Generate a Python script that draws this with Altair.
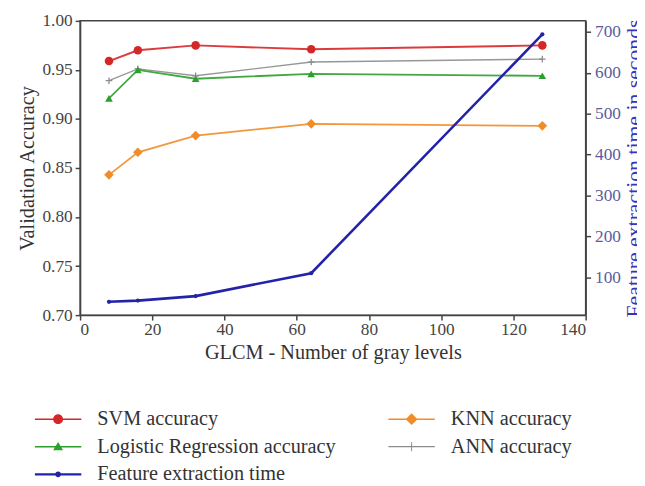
import altair as alt
import pandas as pd

# ---- data ----
gray_levels = [8, 16, 32, 64, 128]
svm_acc = [0.959, 0.970, 0.975, 0.971, 0.975]
lr_acc = [0.921, 0.950, 0.941, 0.946, 0.944]
knn_acc = [0.843, 0.866, 0.883, 0.895, 0.893]
ann_acc = [0.939, 0.951, 0.944, 0.958, 0.961]
extract_time = [40, 43, 54, 110, 694]

# legend order (filled column by column: 3 in the first column, 2 in the second)
series_names = ["SVM accuracy", "Logistic Regression accuracy", "Feature extraction time",
                "KNN accuracy", "ANN accuracy"]
series_colors = ["#d62728", "#2ca02c", "#2323aa", "#f28c28", "#8c8c8c"]

x_ticks = [0, 20, 40, 60, 80, 100, 120, 140]
acc_ticks = [0.70, 0.75, 0.80, 0.85, 0.90, 0.95, 1.00]
time_ticks = [100, 200, 300, 400, 500, 600, 700]

FONT = "Liberation Serif"
color_of = dict(zip(series_names, series_colors))

acc_df = pd.concat([
    pd.DataFrame({"gray": gray_levels, "acc": vals, "series": name})
    for name, vals in [("SVM accuracy", svm_acc),
                       ("Logistic Regression accuracy", lr_acc),
                       ("KNN accuracy", knn_acc),
                       ("ANN accuracy", ann_acc)]
], ignore_index=True)
time_df = pd.DataFrame({"gray": gray_levels, "time": extract_time,
                        "series": "Feature extraction time"})

x_enc = alt.X("gray:Q", scale=alt.Scale(domain=[0, 140], nice=False),
              axis=alt.Axis(values=x_ticks, title="GLCM - Number of gray levels",
                            labelPadding=1, titlePadding=4))
acc_y = alt.Y("acc:Q", scale=alt.Scale(domain=[0.70, 1.00], nice=False, zero=False),
              axis=alt.Axis(values=acc_ticks, format=".2f", title="Validation Accuracy",
                            orient="left", labelPadding=3, titlePadding=5))
time_y = alt.Y("time:Q", scale=alt.Scale(domain=[7.5, 727], nice=False, zero=False),
               axis=alt.Axis(values=time_ticks, title="Feature extraction time in seconds",
                             orient="right", titleColor="#3434bc", titleAngle=270,
                             titleFontSize=22, titleBaseline="top",
                             labelColor="#5c5c9c", labelPadding=4, titlePadding=3))

# marker style per series: (shape, size, filled, line width)
styles = {
    "SVM accuracy": ("circle", 75, True, 2.0),
    "Logistic Regression accuracy": ("triangle-up", 60, True, 1.8),
    "KNN accuracy": ("diamond", 95, True, 1.8),
    "ANN accuracy": ("M0,-1V1M-1,0H1", 45, False, 1.4),
    "Feature extraction time": ("circle", 18, True, 2.6),
}

acc_layers = []
for name in ["KNN accuracy", "ANN accuracy", "Logistic Regression accuracy", "SVM accuracy"]:
    shape, size, filled, lw = styles[name]
    col = color_of[name]
    base = alt.Chart(acc_df).transform_filter(alt.datum.series == name)
    acc_layers.append(base.mark_line(strokeWidth=lw, opacity=0.9, color=col).encode(
        x=x_enc, y=acc_y))
    acc_layers.append(base.mark_point(shape=shape, size=size, filled=filled, opacity=1,
                                      strokeWidth=1.3, color=col).encode(
        x=x_enc, y=acc_y))

name = "Feature extraction time"
shape, size, filled, lw = styles[name]
col = color_of[name]
time_base = alt.Chart(time_df)
time_layers = [
    time_base.mark_line(strokeWidth=lw, color=col).encode(x=x_enc, y=time_y),
    time_base.mark_point(shape=shape, size=size, filled=True, opacity=1, color=col).encode(
        x=x_enc, y=time_y),
]

# legend symbols: line + marker paths (unit = 10px), same order as series_names
legend_paths = [
    "M-1,-0.08H3.7V0.08H-1Z M1.85,0A0.5,0.5 0 1,1 0.85,0A0.5,0.5 0 1,1 1.85,0Z",
    "M-1,-0.08H3.7V0.08H-1Z M1.35,-0.48L1.85,0.35L0.85,0.35Z",
    "M-1,-0.11H3.7V0.11H-1Z M1.65,0A0.3,0.3 0 1,1 1.05,0A0.3,0.3 0 1,1 1.65,0Z",
    "M-1,-0.08H3.7V0.08H-1Z M1.35,-0.6L1.95,0L1.35,0.6L0.75,0Z",
    "M-1,-0.06H3.7V0.06H-1Z M1.3,-0.45H1.4V0.45H1.3Z",
]
leg = alt.Legend(title=None, orient="none", legendX=-46, legendY=393, columns=2,
                 columnPadding=53, rowPadding=7, symbolSize=400, symbolStrokeWidth=0,
                 symbolOpacity=1, labelFont=FONT, labelFontSize=20.5, labelColor="#333333",
                 labelOffset=43, labelLimit=400, padding=0)
legend_layer = alt.Chart(acc_df).transform_filter("false").mark_point(
    filled=True, opacity=1).encode(
    color=alt.Color("series:N", scale=alt.Scale(domain=series_names, range=series_colors),
                    legend=leg),
    shape=alt.Shape("series:N", scale=alt.Scale(domain=series_names, range=legend_paths),
                    legend=leg),
)

chart = alt.layer(
    alt.layer(*acc_layers),
    alt.layer(*time_layers),
    legend_layer,
).resolve_scale(y="independent").properties(
    width=512, height=298,
    autosize=alt.AutoSizeParams(type="none"),
    padding={"left": 73, "top": 10, "right": 52, "bottom": 168},
).configure_view(
    stroke="#444444", strokeWidth=1.5
).configure_axis(
    labelFont=FONT, labelFontSize=17.5, labelColor="#444444",
    titleFont=FONT, titleFontSize=20.5, titleColor="#333333", titleFontWeight="normal",
    domainColor="#444444", domainWidth=1.5, tickColor="#444444", tickWidth=1.5,
    tickSize=5, grid=False,
)

chart.save("out.html", embed_options={"renderer": "svg", "actions": False})
